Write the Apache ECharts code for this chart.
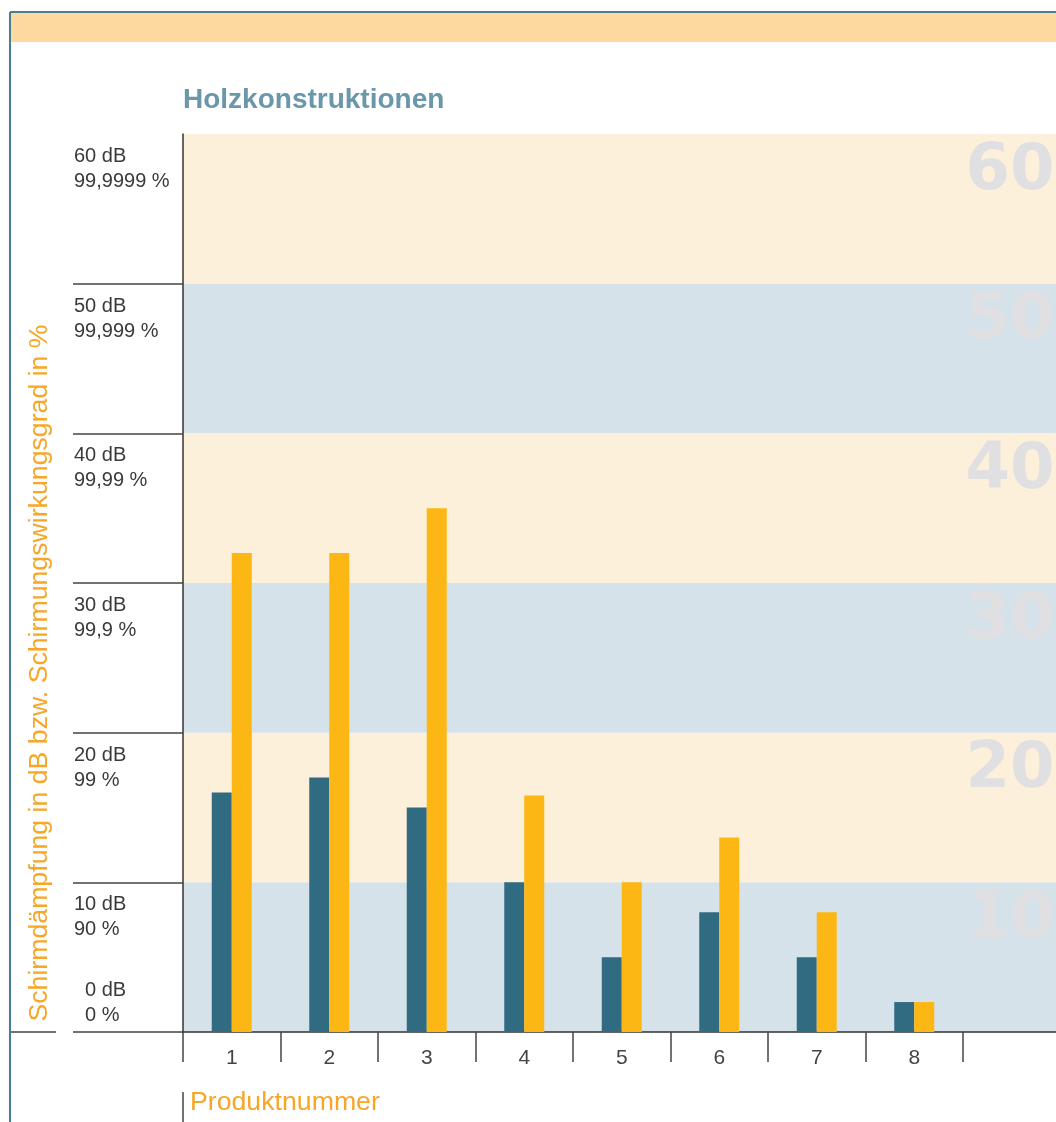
<!DOCTYPE html>
<html>
<head>
<meta charset="utf-8">
<title>Holzkonstruktionen</title>
<script src="https://cdn.jsdelivr.net/npm/echarts@6/dist/echarts.min.js"></script>
<style>
  html, body { margin: 0; padding: 0; background: #fff; }
  #chart { width: 1056px; height: 1122px; }
</style>
</head>
<body>
<div id="chart"></div>
<script>
// Daten
const products = ['1', '2', '3', '4', '5', '6', '7', '8', '']
const dNetz = [16, 17, 15, 10, 5, 8, 5, 2]
const eNetz = [32, 32, 35, 15.8, 10, 13, 8, 2]
const dbTicks = [0, 10, 20, 30, 40, 50, 60]
const percentLabels = ['0 %', '90 %', '99 %', '99,9 %', '99,99 %', '99,999 %', '99,9999 %']
const legendBlue = ['900 MHz D-Netz']
const legendOrange = ['1.800 MHz E-Netz', '1.900 MHz DECT-Telefon', '2.000 MHz UMTS']

const blue = '#316b82'
const orange = '#fdb714'
const textColor = '#3a3a3a'
const accent = '#f7a626'
const font = 'Liberation Sans, Arial, sans-serif'

const chart = echarts.init(document.getElementById('chart'))

const dbLabel = (v) => v + ' dB\n' + percentLabels[dbTicks.indexOf(v)]

const option = {
  animation: false,
  title: {
    text: 'Holzkonstruktionen',
    left: 183,
    top: 86,
    padding: 0,
    textStyle: { fontSize: 28, fontWeight: 'bold', color: '#6b97aa', fontFamily: font }
  },
  grid: { left: 183, top: 134, width: 877.5, height: 898, outerBoundsMode: 'none' },
  xAxis: {
    type: 'category',
    data: products,
    axisLine: { lineStyle: { color: '#333', width: 1.5 } },
    axisTick: { show: true, length: 30, interval: 0, lineStyle: { color: '#444', width: 1.5 } },
    axisLabel: { interval: 0, margin: 16, fontSize: 21, color: '#444', fontFamily: font }
  },
  yAxis: [
    {
      type: 'value',
      min: 0,
      max: 60,
      interval: 10,
      axisLine: { show: true, lineStyle: { color: '#333', width: 1.5 } },
      axisTick: {
        show: true,
        length: 110,
        customValues: [0, 10, 20, 30, 40, 50],
        lineStyle: { color: '#444', width: 1.5 }
      },
      splitLine: { show: false },
      axisLabel: {
        customValues: [10, 20, 30, 40, 50, 60],
        formatter: dbLabel,
        align: 'left',
        verticalAlign: 'top',
        margin: 109,
        padding: [10, 0, 0, 0],
        lineHeight: 25,
        fontSize: 20,
        color: textColor,
        fontFamily: font
      }
    },
    {
      type: 'value',
      min: 0,
      max: 60,
      interval: 10,
      position: 'left',
      axisLine: { show: false },
      axisTick: { show: false },
      splitLine: { show: false },
      axisLabel: {
        customValues: [0],
        formatter: dbLabel,
        align: 'left',
        verticalAlign: 'bottom',
        margin: 98,
        padding: [0, 0, 4, 0],
        lineHeight: 25,
        fontSize: 20,
        color: textColor,
        fontFamily: font
      }
    },
    {
      // Hintergrundbänder und große Zahlen rechts
      type: 'value',
      min: 0,
      max: 60,
      interval: 10,
      position: 'right',
      axisLine: { show: false },
      axisTick: { show: false },
      splitLine: { show: false },
      splitArea: { show: true, areaStyle: { color: ['#d5e2ea', '#fdf0da'] } },
      axisLabel: {
        inside: true,
        customValues: [10, 20, 30, 40, 50, 60],
        verticalAlign: 'top',
        margin: 6,
        padding: [6, 0, 0, 0],
        fontSize: 64,
        fontWeight: 'bold',
        color: '#e0e0e3',
        fontFamily: 'DejaVu Sans'
      }
    }
  ],
  series: [
    {
      name: legendBlue[0],
      type: 'bar',
      data: dNetz,
      barWidth: 20,
      barGap: '0%',
      itemStyle: { color: blue }
    },
    {
      name: legendOrange.join('\n'),
      type: 'bar',
      data: eNetz,
      barWidth: 20,
      itemStyle: { color: orange }
    }
  ],
  graphic: [
    // Rahmen und Kopfleiste
    { type: 'rect', shape: { x: 11, y: 13, width: 1045, height: 29 }, style: { fill: '#fdd9a0' } },
    { type: 'line', shape: { x1: 10, y1: 12, x2: 1056, y2: 12 }, style: { stroke: '#4a7d91', lineWidth: 2 } },
    { type: 'line', shape: { x1: 10, y1: 12, x2: 10, y2: 1122 }, style: { stroke: '#4a7d91', lineWidth: 2 } },
    { type: 'line', shape: { x1: 11, y1: 1032, x2: 56, y2: 1032 }, style: { stroke: '#444', lineWidth: 1.5 } },
    // Legende
    { type: 'rect', shape: { x: 222, y: 134, width: 177, height: 40 }, style: { fill: blue } },
    {
      type: 'text', x: 233, y: 154,
      style: { text: legendBlue.join('\n'), fill: '#fff', fontSize: 21, fontFamily: font, verticalAlign: 'middle' }
    },
    { type: 'rect', shape: { x: 421, y: 134, width: 256, height: 90 }, style: { fill: orange } },
    {
      type: 'text', x: 431, y: 140,
      style: { text: legendOrange.join('\n'), fill: '#fff', fontSize: 21, lineHeight: 26, fontFamily: font, verticalAlign: 'top' }
    },
    // Achsentitel
    {
      type: 'text', x: 40, y: 673, rotation: Math.PI / 2,
      style: {
        text: 'Schirmdämpfung in dB bzw. Schirmungswirkungsgrad in %',
        fill: accent, fontSize: 26.7, fontFamily: font, align: 'center', verticalAlign: 'middle'
      }
    },
    { type: 'line', shape: { x1: 183, y1: 1092, x2: 183, y2: 1122 }, style: { stroke: '#444', lineWidth: 1.5 } },
    {
      type: 'text', x: 190, y: 1103,
      style: { text: 'Produktnummer', fill: accent, fontSize: 26.7, fontFamily: font, verticalAlign: 'middle' }
    }
  ]
}

chart.setOption(option)
</script>
</body>
</html>
